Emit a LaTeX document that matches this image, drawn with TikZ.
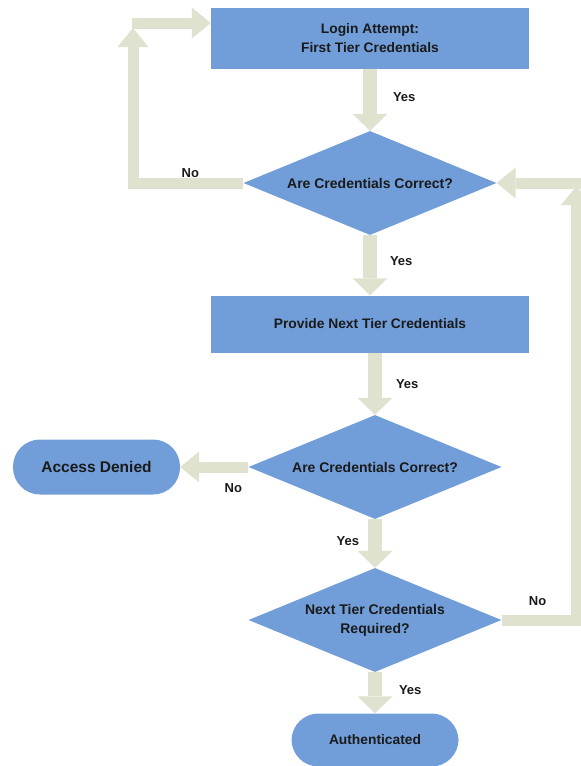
\documentclass[tikz,border=0pt]{standalone}
\usepackage{fontspec}
\setmainfont{Liberation Sans}
\usetikzlibrary{shapes.geometric, positioning, arrows.meta}
\definecolor{boxblue}{RGB}{113,158,217}
\definecolor{arrowgreen}{RGB}{222,226,206}
\definecolor{inkdark}{RGB}{26,26,26}
\tikzset{
  x=1pt, y=-1pt,
  node distance=143pt,
  process/.style={rectangle, fill=boxblue, text=inkdark, align=center,
    minimum width=318pt, minimum height=61pt,
    font=\bfseries\fontsize{13.8}{19}\selectfont},
  decision/.style={diamond, aspect=2.43, fill=boxblue, text=inkdark, align=center, inner sep=0pt,
    minimum width=253pt, minimum height=104pt,
    font=\bfseries\fontsize{14}{19}\selectfont},
  terminal/.style={rectangle, rounded corners=27pt, fill=boxblue, text=inkdark,
    minimum width=167pt, minimum height=55pt,
    font=\bfseries\fontsize{13.8}{19}\selectfont},
  flowarrow/.style={draw=arrowgreen, line width=14pt,
    -{Triangle[width=35pt,length=17pt,line width=0pt]}},
  sidearrow/.style={draw=arrowgreen, line width=11pt,
    -{Triangle[width=31pt,length=19pt,line width=0pt]}},
  lbl/.style={text=inkdark, inner sep=1pt, font=\bfseries\fontsize{13}{15}\selectfont},
}
\begin{document}
\begin{tikzpicture}
    \useasboundingbox (0,0) rectangle (581,766);

    \node[process] (login) at (370,38) {Login Attempt:\\First Tier Credentials};
    \node[decision, below of=login, node distance=145pt] (check1) {Are Credentials Correct?};
    \node[process, below of=check1, node distance=141pt, minimum height=57pt] (provide) {Provide Next Tier Credentials};
    \node[decision, below of=provide, xshift=5pt] (check2) {Are Credentials Correct?};
    \node[terminal, left of=check2, node distance=278.5pt, font=\bfseries\fontsize{15.5}{19}\selectfont] (denied) {Access Denied};
    \node[decision, below of=check2, node distance=153pt] (check3) {Next Tier Credentials\\Required?};
    \node[terminal, below of=check3, node distance=120pt, minimum height=53pt] (auth) {Authenticated};

    % bends of the two loops
    \coordinate (leftturn)  at (133,28);
    \coordinate (leftback)  at (132,23);
    \coordinate (rightturn) at (576.5,186);
    \coordinate (rightback) at (581,183);

    \draw[flowarrow] (login) -- node[lbl, right=15pt, pos=0.46]{Yes} (check1);
    \draw[flowarrow] (check1) -- node[lbl, right=12pt, pos=0.43]{Yes} (provide);
    \draw[flowarrow] (provide.south -| check2) -- node[lbl, right=13pt, pos=0.5]{Yes} (check2);
    \draw[flowarrow] (check2) -- node[lbl, left=8pt, pos=0.45]{Yes} (check3);
    \draw[flowarrow] (check3) -- node[lbl, right=16pt, pos=0.44]{Yes} (auth);
    \draw[sidearrow] (check2) -- node[lbl, below=10pt, pos=0.22]{No} (denied);

    \draw[sidearrow] (check1) -| node[lbl, above=-1pt, pos=0.24]{No} (leftturn);
    \draw[sidearrow] (leftback) -- (leftback -| login.west);
    \draw[sidearrow] (check3) -| node[lbl, above=8pt, pos=0.24]{No} (rightturn);
    \draw[sidearrow] (rightback) -- (check1.east);
\end{tikzpicture}
\end{document}
